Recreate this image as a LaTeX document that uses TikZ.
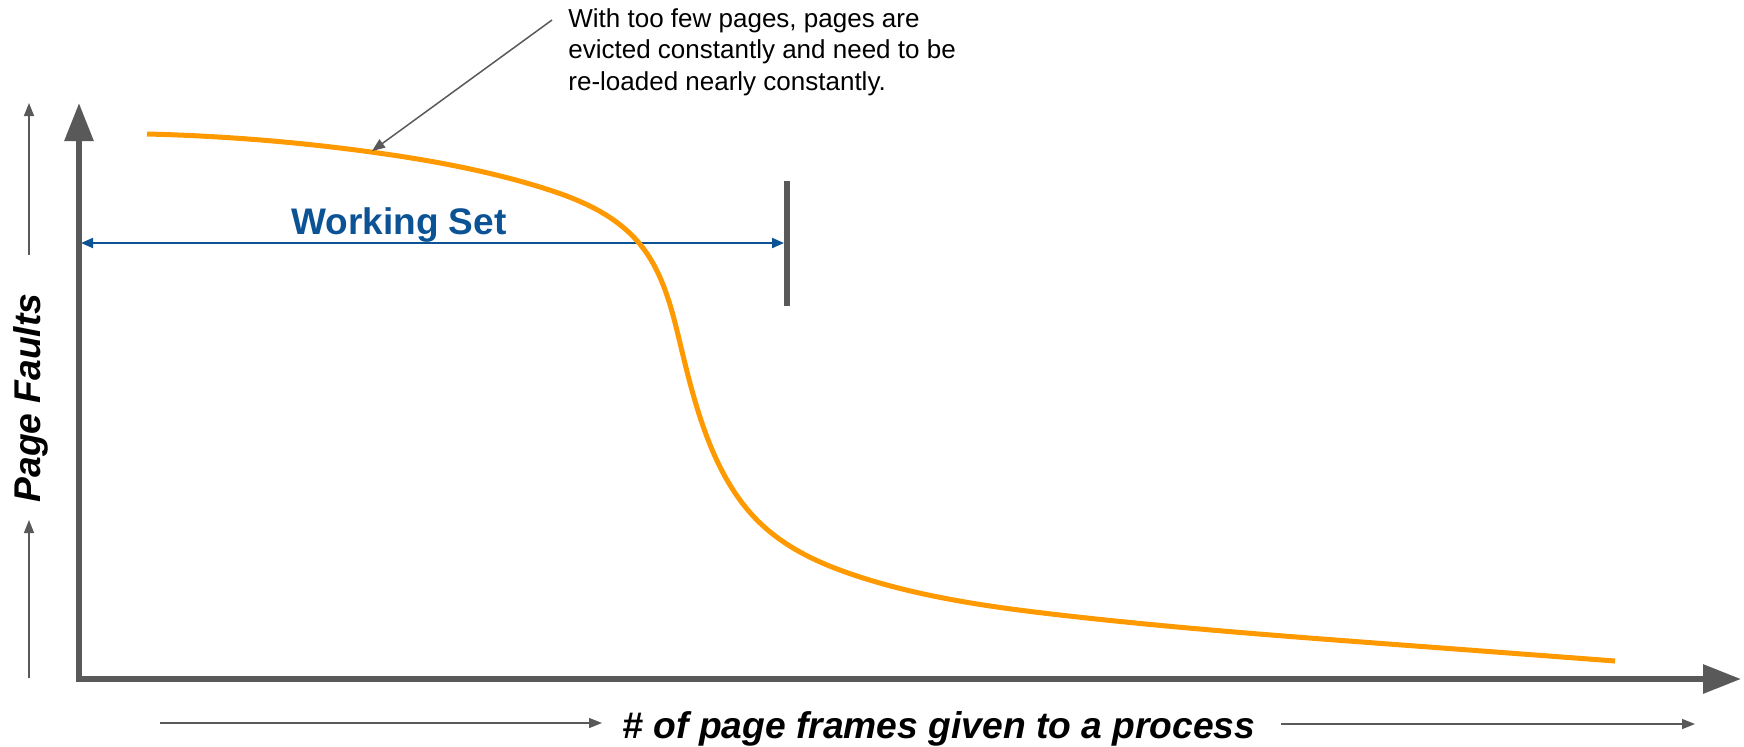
\documentclass[tikz,border=0pt]{standalone}
\usepackage{fontspec}
\setmainfont{Liberation Sans}
\usetikzlibrary{arrows.meta,hobby}
\definecolor{axisgray}{HTML}{595959}
\definecolor{wsblue}{HTML}{0B5394}
\definecolor{curveorange}{HTML}{FF9900}
\tikzset{
  axisline/.style={draw=axisgray, line width=3pt, line cap=rect, -{Triangle[length=19pt,width=14pt]}},
  guide/.style={draw=axisgray, line width=0.75pt, -{Triangle[length=6.5pt,width=5pt]}},
  pointer/.style={draw=axisgray, line width=0.75pt, -{Triangle[length=6.5pt,width=5pt]}},
  wsarrow/.style={draw=wsblue, line width=1pt, {Triangle[length=6pt,width=5pt]}-{Triangle[length=6pt,width=5pt]}},
  barline/.style={draw=axisgray, line width=3pt},
  curve/.style={draw=curveorange, line width=2.5pt},
  axislabel/.style={font=\fontsize{18.6}{22}\selectfont\bfseries\itshape, inner sep=0pt},
  wslabel/.style={font=\fontsize{18.5}{22}\selectfont\bfseries, text=wsblue, inner sep=0pt},
  notelabel/.style={font=\fontsize{13}{15.75}\selectfont, align=left, inner sep=0pt}
}
\begin{document}
\begin{tikzpicture}[x=0.5pt,y=-0.5pt]
\useasboundingbox (0,0) rectangle (1744,746);
% axes
\coordinate (O) at (79,679);
\coordinate (ytip) at (79,103);
\coordinate (xtip) at (1741,679);
\draw[axisline] (O) -- (ytip);
\draw[axisline] (O) -- (xtip);
% guide arrows
\coordinate (g1s) at (29,255); \coordinate (g1e) at (29,103);
\coordinate (g2s) at (29,678); \coordinate (g2e) at (29,520);
\coordinate (g3s) at (160,723); \coordinate (g3e) at (602,723);
\coordinate (g4s) at (1281,724); \coordinate (g4e) at (1695,724);
\draw[guide] (g1s) -- (g1e);
\draw[guide] (g2s) -- (g2e);
\draw[guide] (g3s) -- (g3e);
\draw[guide] (g4s) -- (g4e);
% axis labels
\node[axislabel, rotate=90, anchor=base] (ylab) at (40,398) {Page Faults};
\node[axislabel, anchor=base] (xlab) at (939,738) {\# of page frames given to a process};
% working set
\coordinate (bartop) at (787,181);
\coordinate (barbot) at (787,306);
\draw[barline] (bartop) -- (barbot);
\coordinate (wsL) at (81,243);
\coordinate (wsR) at (784,243);
\draw[wsarrow] (wsL) -- (wsR);
\node[wslabel, anchor=base west] (ws) at (291,234) {Working Set};
% curve
\draw[curve, use Hobby shortcut] (147,134) .. (371,152) .. (540,187) .. (639,243)
  .. (680,343) .. (707,437) .. (760,523) .. (860,577)
  .. (1060,615) .. (1402,645) .. (1615,661);
% annotation
\node[notelabel, anchor=north west] (note) at (568,8) {With too few pages, pages are\\evicted constantly and need to be\\re-loaded nearly constantly.};
\coordinate (notestart) at (552,20);
\coordinate (notetip) at (372,151);
\draw[pointer] (notestart) -- (notetip);
\end{tikzpicture}
\end{document}
